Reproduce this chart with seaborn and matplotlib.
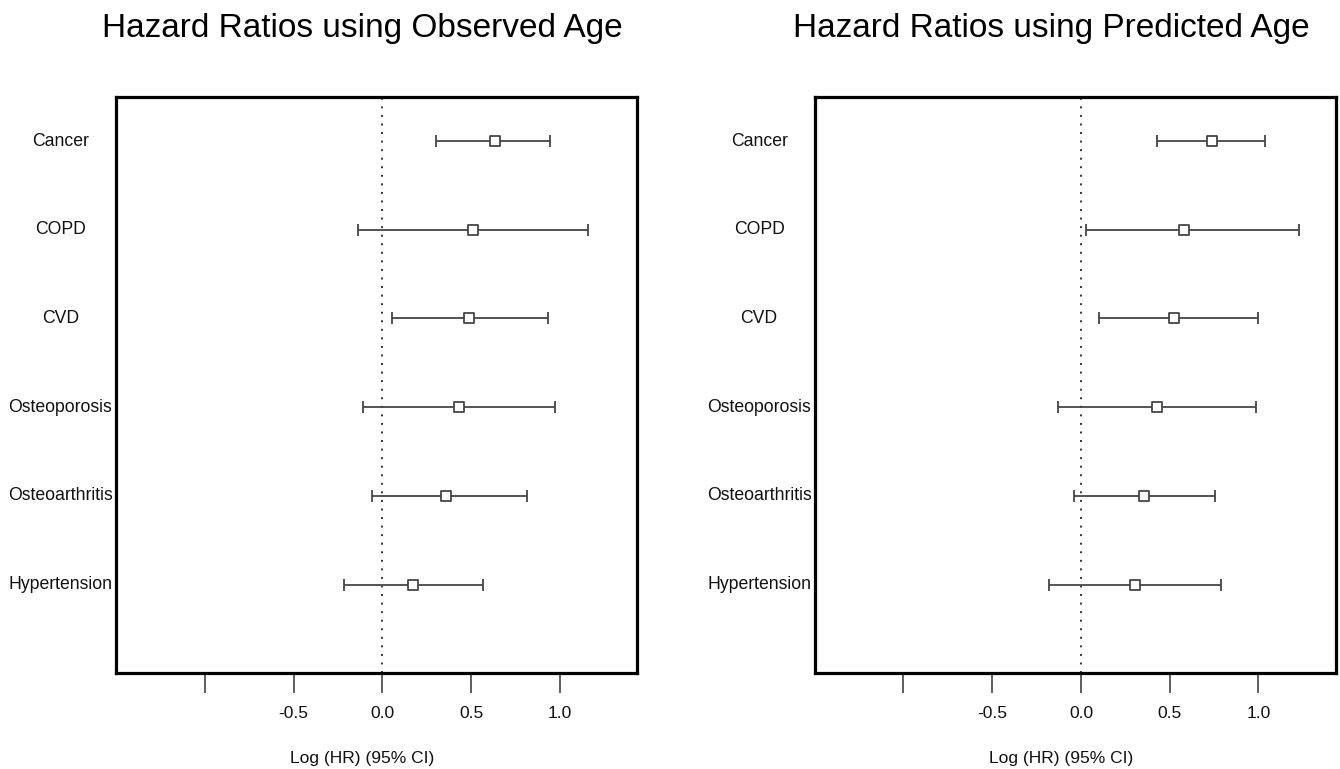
import numpy as np
import pandas as pd
import matplotlib
matplotlib.use("Agg")
import matplotlib.pyplot as plt
import seaborn as sns

# ---- data ----
categories = ["Cancer", "COPD", "CVD", "Osteoporosis", "Osteoarthritis", "Hypertension"]
obs_est = [0.635, 0.510, 0.487, 0.430, 0.360, 0.173]
obs_lo = [0.300, -0.135, 0.054, -0.109, -0.060, -0.216]
obs_hi = [0.944, 1.158, 0.933, 0.972, 0.816, 0.565]
pred_est = [0.739, 0.583, 0.525, 0.426, 0.357, 0.302]
pred_lo = [0.428, 0.028, 0.104, -0.131, -0.037, -0.182]
pred_hi = [1.036, 1.230, 0.999, 0.986, 0.755, 0.787]
titles = ["Hazard Ratios using Observed Age", "Hazard Ratios using Predicted Age"]
xticks = [-1.0, -0.5, 0.0, 0.5, 1.0]
xticklabels = ["", "-0.5", "0.0", "0.5", "1.0"]
xlabel = "Log (HR) (95% CI)"

sns.set_theme(style="white")
plt.rcParams["font.family"] = ["Liberation Sans", "DejaVu Sans"]

W, H = 1340, 769
fig = plt.figure(figsize=(W / 100, H / 100), dpi=100)

panels = [
    (obs_est, obs_lo, obs_hi),
    (pred_est, pred_lo, pred_hi),
]
ax_left_px = [116, 814.7]
title_cx = [362, 1051]
xlabel_cx = [362, 1061]
ax_w_px = 521
top_px, bot_px = 96.7, 673.3

ypos = np.arange(len(categories), 0, -1)

for i, (est, lo, hi) in enumerate(panels):
    ax = fig.add_axes([ax_left_px[i] / W, 1 - bot_px / H, ax_w_px / W, (bot_px - top_px) / H])
    df = pd.DataFrame({"category": categories, "est": est, "lo": lo, "hi": hi, "y": ypos})
    ax.set_xlim(-1.5, 1.435)
    ax.set_ylim(0, 6.5)
    ax.axvline(0, color="#333333", lw=1.4, linestyle=(0, (1, 3.4)), zorder=1)
    ax.errorbar(df["est"], df["y"],
                xerr=[df["est"] - df["lo"], df["hi"] - df["est"]],
                fmt="none", ecolor="#454545", elinewidth=1.3, capsize=4, capthick=1.3, zorder=2)
    sns.scatterplot(data=df, x="est", y="y", marker="s", s=52, color="white",
                    edgecolor="#454545", linewidth=1.3, zorder=3, ax=ax, legend=False)
    for s in ax.spines.values():
        s.set_visible(True)
        s.set_color("black")
        s.set_linewidth(2.3)
    ax.set_yticks([])
    ax.set_xticks(xticks)
    ax.set_xticklabels(xticklabels)
    ax.tick_params(axis="x", direction="out", length=14.4, width=1.1, color="#333333",
                   pad=9.5, labelsize=12.5, labelcolor="#111111", bottom=True)
    ax.set_xlabel("")
    ax.set_ylabel("")
    for cat, yv in zip(df["category"], df["y"]):
        ax.annotate(cat, xy=(0, yv), xycoords=("axes fraction", "data"),
                    xytext=(-40, 0), textcoords="offset points",
                    ha="center", va="center", fontsize=12.7, color="#111111",
                    annotation_clip=False)
    fig.text(title_cx[i] / W, 1 - 37.5 / H, titles[i], ha="center", va="baseline",
             fontsize=24, color="black")
    fig.text(xlabel_cx[i] / W, 1 - 763 / H, xlabel, ha="center", va="baseline",
             fontsize=12.5, color="#111111")

fig.savefig("out.png", dpi=100)
